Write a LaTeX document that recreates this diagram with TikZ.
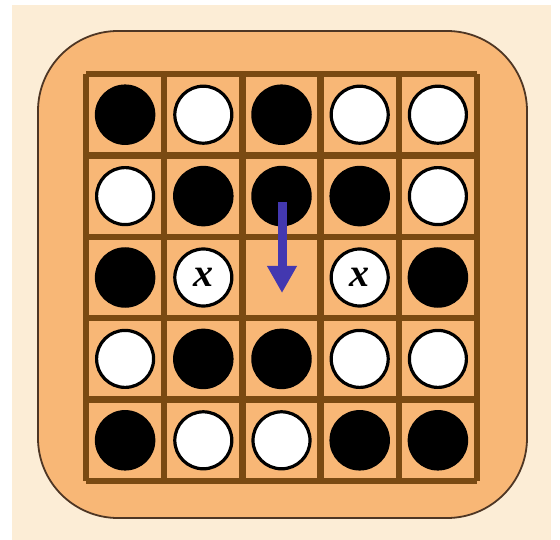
\documentclass[tikz,border=0pt]{standalone}
\usepackage{fontspec}
\newfontfamily\xfont{Liberation Serif}
\usetikzlibrary{arrows.meta}
\definecolor{cream}{HTML}{FCEDD6}
\definecolor{boardorange}{HTML}{F8B776}
\definecolor{gridbrown}{HTML}{7A4A12}
\definecolor{edgebrown}{HTML}{4E3624}
\definecolor{arrowblue}{HTML}{4338B0}
\tikzset{
  blackstone/.style={circle,fill=black,draw=black,line width=1.5pt,minimum size=59pt,inner sep=0pt},
  whitestone/.style={circle,fill=white,draw=black,line width=3.2pt,minimum size=57pt,inner sep=0pt,font=\xfont\bfseries\itshape\fontsize{40}{40}\selectfont},
  gridline/.style={draw=gridbrown,line width=6.5pt},
  movearrow/.style={draw=arrowblue,line width=9pt,-{Triangle[length=27pt,width=28pt]}}
}
\begin{document}
\begin{tikzpicture}[x=1pt,y=-1pt]
\useasboundingbox (0,0) rectangle (560,540);
\fill[white] (0,0) rectangle (560,540);
\fill[cream] (12,5) rectangle (551,540);
\draw[fill=boardorange,draw=edgebrown,line width=1.8pt,rounded corners=80pt] (38,31) rectangle (527,518);
% grid
\foreach \i in {0,...,5} {
  \draw[gridline] ({86+78.2*\i},74) -- ({86+78.2*\i},481);
  \draw[gridline] (86,{74+81.4*\i}) -- (477,{74+81.4*\i});
}
% stones
\newcommand{\stone}[4]{\node[#1] (#2) at ({86+78.2*(#3-0.5)},{74+81.4*(#4-0.5)}) {};}
\newcommand{\xstone}[3]{\node[whitestone] (#1) at ({86+78.2*(#2-0.5)},{74+81.4*(#3-0.5)}) {\raisebox{-1pt}{x}};}
% row 1
\stone{blackstone}{a1}{1}{1}
\stone{whitestone}{a2}{2}{1}
\stone{blackstone}{a3}{3}{1}
\stone{whitestone}{a4}{4}{1}
\stone{whitestone}{a5}{5}{1}
% row 2
\stone{whitestone}{b1}{1}{2}
\stone{blackstone}{b2}{2}{2}
\stone{blackstone}{b3}{3}{2}
\stone{blackstone}{b4}{4}{2}
\stone{whitestone}{b5}{5}{2}
% row 3
\stone{blackstone}{c1}{1}{3}
\xstone{c2}{2}{3}
\coordinate (c3) at ({86+78.2*2.5},{74+81.4*2.5});
\xstone{c4}{4}{3}
\stone{blackstone}{c5}{5}{3}
% row 4
\stone{whitestone}{d1}{1}{4}
\stone{blackstone}{d2}{2}{4}
\stone{blackstone}{d3}{3}{4}
\stone{whitestone}{d4}{4}{4}
\stone{whitestone}{d5}{5}{4}
% row 5
\stone{blackstone}{e1}{1}{5}
\stone{whitestone}{e2}{2}{5}
\stone{whitestone}{e3}{3}{5}
\stone{blackstone}{e4}{4}{5}
\stone{blackstone}{e5}{5}{5}
% arrow
\coordinate (arrstart) at ([xshift=0.5pt,yshift=-6pt]b3.center);
\coordinate (arrend) at ([xshift=0.5pt,yshift=-15.5pt]c3);
\draw[movearrow] (arrstart) -- (arrend);
\end{tikzpicture}
\end{document}
